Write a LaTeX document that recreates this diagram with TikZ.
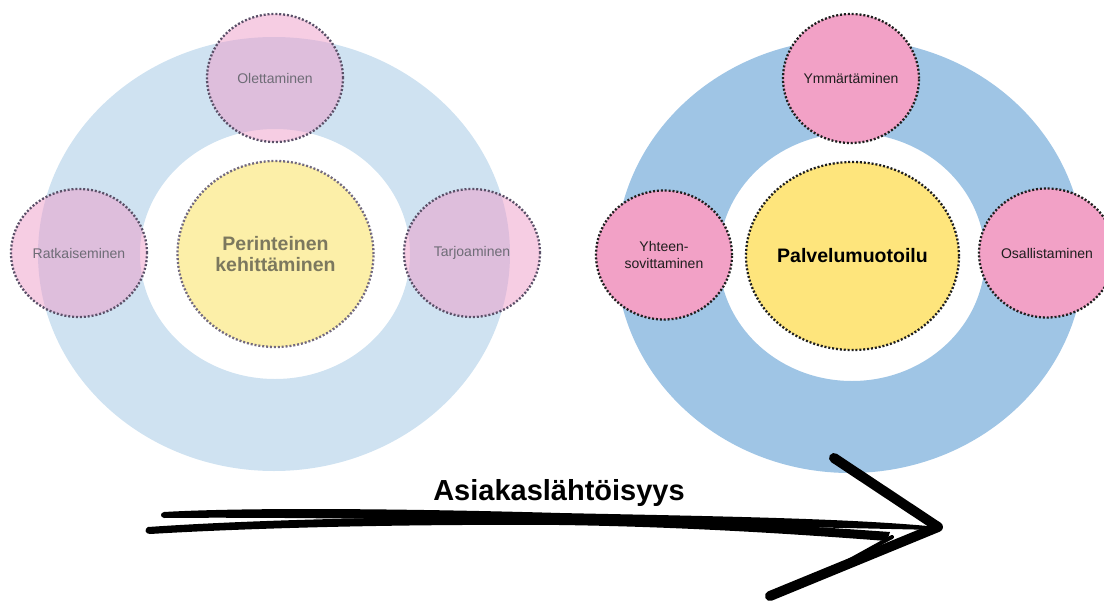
\documentclass[tikz,border=0pt]{standalone}
\usepackage{fontspec}
\setmainfont{Liberation Sans}
\usetikzlibrary{shapes.geometric}

\definecolor{ringpale}{HTML}{CFE2F1}
\definecolor{ringblue}{HTML}{9FC5E5}
\definecolor{pinkpale}{HTML}{EE9CC8}
\definecolor{pinkfull}{HTML}{F2A1C6}
\definecolor{yellowpale}{HTML}{FCEFA8}
\definecolor{yellowfull}{HTML}{FEE57C}
\definecolor{dotpale}{HTML}{5A5068}
\definecolor{dotfull}{HTML}{1E1E1E}
\definecolor{textpale}{HTML}{6E6C76}
\definecolor{headpale}{HTML}{7C785E}

\tikzset{
  bubble/.style={ellipse, inner sep=0pt, align=center, font=\fontsize{14}{16.5}\selectfont,
    line width=2.3pt, line cap=butt, dash pattern=on 2pt off 1.9pt},
  oldbubble/.style={bubble, draw=dotpale, fill=pinkpale, fill opacity=0.5, draw opacity=1, text opacity=1,
    text=textpale, minimum width=136pt, minimum height=128pt},
  newbubble/.style={bubble, draw=dotfull, fill=pinkfull, text=dotfull,
    minimum width=136pt, minimum height=129pt},
  oldcore/.style={bubble, draw=dotpale!85, fill=yellowpale, text=headpale,
    font=\fontsize{19.5}{21}\selectfont\bfseries, minimum width=196pt, minimum height=186pt},
  newcore/.style={bubble, draw=dotfull, fill=yellowfull, text=black,
    font=\fontsize{19.5}{21}\selectfont\bfseries, minimum width=197pt, minimum height=188pt},
  inkstroke/.style={fill=black},
}

\begin{document}
\begin{tikzpicture}[x=1pt,y=-1pt]
\useasboundingbox (0,0) rectangle (1104,605);

% rings
\fill[ringpale, even odd rule] (274,254) ellipse [x radius=236, y radius=217]
  (275,254) ellipse [x radius=135, y radius=125];
\fill[ringblue, even odd rule] (850,256) ellipse [x radius=234, y radius=217]
  (852,257) ellipse [x radius=133, y radius=124];

% traditional development
\node[oldcore]   (trad)  at (275.5,254) {Perinteinen\\kehittäminen};
\node[oldbubble] (olet)  at (275,78)  {Olettaminen};
\node[oldbubble] (ratk)  at (79,253)  {Ratkaiseminen};
\node[oldbubble] (tarj)  at (472,253) {Tarjoaminen};

% service design
\node[newcore]   (palv)  at (852.5,256) {Palvelumuotoilu};
\node[newbubble] (ymm)   at (851,78.5) {Ymmärtäminen};
\node[newbubble] (yht)   at (664,255)  {Yhteen-\\sovittaminen};
\node[newbubble] (osal)  at (1047,253) {Osallistaminen};

% hand-drawn arrow
\coordinate (tip) at (938,527);
\coordinate (barbtop) at (834,458);
\coordinate (barbbot) at (770,596);
\fill[inkstroke] (164,512) .. controls (250,507) and (420,509) .. (560,513)
  .. controls (700,516) and (850,518) .. (tip) -- (936,530)
  .. controls (850,528) and (700,525) .. (560,522)
  .. controls (420,519) and (250,517) .. (164,518)
  .. controls (160,517) and (160,513) .. (164,512) -- cycle;
\fill[inkstroke] (148,527) .. controls (250,520) and (400,516) .. (560,517)
  .. controls (700,519) and (820,527) .. (890,532) -- (887,541)
  .. controls (820,536) and (700,527) .. (560,525)
  .. controls (400,524) and (250,528) .. (150,534)
  .. controls (145,534) and (144,529) .. (148,527) -- cycle;
\draw[line width=4pt, line cap=round] (892,537) .. controls (862,553) and (830,572) .. (800,586);
\draw[line width=10pt, line cap=round, line join=round] (barbtop) -- (tip) -- (barbbot);

\node[font=\fontsize{29}{32}\selectfont\bfseries, anchor=base] (asia) at (559,500) {Asiakaslähtöisyys};
\end{tikzpicture}
\end{document}
